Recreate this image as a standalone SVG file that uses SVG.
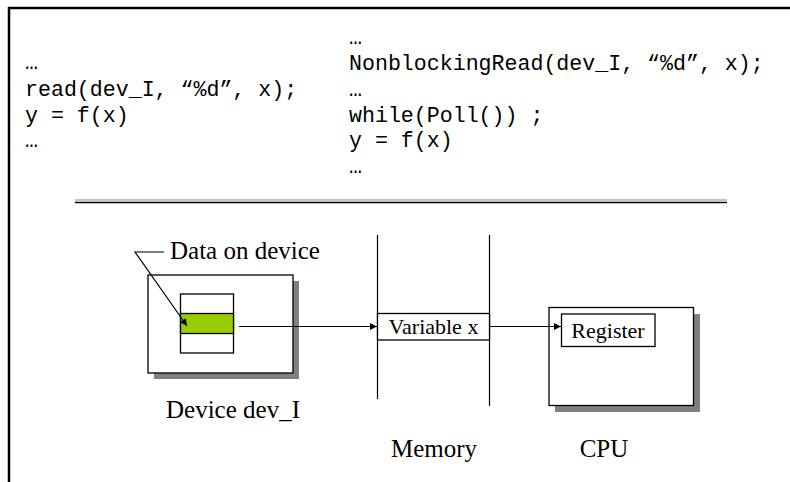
<svg xmlns="http://www.w3.org/2000/svg" width="790" height="482" viewBox="0 0 790 482">
  <style>
    .code { font-family: "Liberation Mono", "Courier New", monospace; font-size: 21.6px; fill: #000; }
    .label { font-family: "Liberation Serif", "Times New Roman", serif; font-size: 25px; fill: #000; }
    .small { font-family: "Liberation Serif", "Times New Roman", serif; font-size: 22px; fill: #000; }
    .box { fill: #fff; stroke: #000; stroke-width: 1.3; }
    .shadow { fill: #808080; }
    .wire { stroke: #000; stroke-width: 1.2; fill: none; }
  </style>
  <defs>
    <marker id="arrow" viewBox="0 0 10 10" refX="10" refY="5" markerWidth="8" markerHeight="7" markerUnits="userSpaceOnUse" orient="auto">
      <path d="M0,0 L10,5 L0,10 z" fill="#000"/>
    </marker>
  </defs>

  <rect width="790" height="482" fill="#fff"/>

  <!-- frame -->
  <g id="frame">
    <line x1="8" y1="8" x2="790" y2="8" stroke="#000" stroke-width="2.5"/>
    <line x1="9" y1="7" x2="9" y2="482" stroke="#000" stroke-width="2.5"/>
  </g>

  <!-- blocking version -->
  <g id="code-blocking" class="code">
    <text x="25" y="69">…</text>
    <text x="25" y="96">read(dev_I, “%d”, x);</text>
    <text x="25" y="122">y = f(x)</text>
    <text x="25" y="147">…</text>
  </g>

  <!-- non-blocking version -->
  <g id="code-nonblocking" class="code">
    <text x="349" y="44">…</text>
    <text x="349" y="70">NonblockingRead(dev_I, “%d”, x);</text>
    <text x="349" y="96">…</text>
    <text x="349" y="122">while(Poll()) ;</text>
    <text x="349" y="147">y = f(x)</text>
    <text x="349" y="173">…</text>
  </g>

  <!-- separator -->
  <g id="separator">
    <line x1="75" y1="200" x2="727" y2="200" stroke="#b0b0b0" stroke-width="1.5"/>
    <line x1="75" y1="202.5" x2="727" y2="202.5" stroke="#000" stroke-width="1.6"/>
  </g>

  <!-- device -->
  <g id="device">
    <rect class="shadow" x="154" y="281" width="145" height="98"/>
    <rect class="box" x="148" y="275" width="145" height="98"/>
    <rect class="box" x="180.5" y="294" width="53" height="59"/>
    <rect x="180.5" y="313.5" width="53" height="20" fill="#99cc00" stroke="#000" stroke-width="1.3"/>
    <text class="label" x="233" y="418" text-anchor="middle">Device dev_I</text>
  </g>

  <!-- data label -->
  <g id="data-label">
    <text class="label" x="170" y="259">Data on device</text>
  </g>

  <!-- memory -->
  <g id="memory">
    <line x1="377.5" y1="235" x2="377.5" y2="399" stroke="#000" stroke-width="1.2"/>
    <line x1="489.5" y1="235" x2="489.5" y2="406" stroke="#000" stroke-width="1.2"/>
    <rect class="box" x="377.5" y="313.5" width="112" height="26.5"/>
    <text class="small" x="433.5" y="334" text-anchor="middle">Variable x</text>
    <text class="label" x="434" y="457" text-anchor="middle">Memory</text>
  </g>

  <!-- cpu -->
  <g id="cpu">
    <rect class="shadow" x="555" y="314" width="145" height="98"/>
    <rect class="box" x="549" y="307.5" width="144.5" height="98"/>
    <rect class="box" x="561.5" y="314" width="93.5" height="32.5"/>
    <text class="small" x="608" y="338" text-anchor="middle">Register</text>
    <text class="label" x="604" y="457" text-anchor="middle">CPU</text>
  </g>

  <!-- connectors -->
  <g id="connectors">
    <polyline class="wire" points="164,252 135,252 187,326" marker-end="url(#arrow)"/>
    <line class="wire" x1="239" y1="326.5" x2="377" y2="326.5" marker-end="url(#arrow)"/>
    <line class="wire" x1="490" y1="326.5" x2="561" y2="326.5" marker-end="url(#arrow)"/>
  </g>
</svg>
